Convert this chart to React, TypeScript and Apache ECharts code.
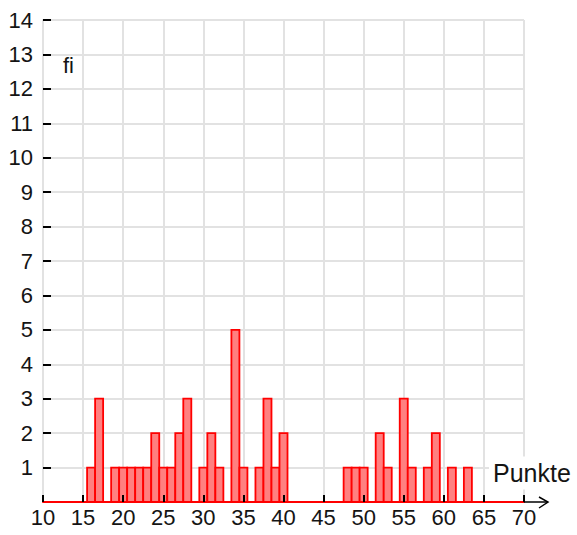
import React, { useEffect, useRef } from "react";
import * as echarts from "echarts";

// Histogram data: Punkte (x) and absolute frequency fi (y)
const punkte = [16, 17, 19, 20, 21, 22, 23, 24, 25, 26, 27, 28, 30, 31, 32, 34, 35, 37, 38, 39, 40, 48, 49, 50, 52, 53, 55, 56, 58, 59, 61, 63];
const fi = [1, 3, 1, 1, 1, 1, 1, 2, 1, 1, 2, 3, 1, 2, 1, 5, 1, 1, 3, 1, 2, 1, 1, 1, 2, 1, 3, 1, 1, 2, 1, 1];

const xMin = 10;
const xMax = 70;
const xStep = 5;
const yMin = 0;
const yMax = 14;
const yStep = 1;

const FONT = "'Liberation Sans', Arial, sans-serif";
const TXT = "#141414";
const GRID = "#e2e2e2";

export default function App() {
  const ref = useRef<HTMLDivElement>(null);

  useEffect(() => {
    document.body.style.margin = "0";
    if (!ref.current) return;
    const chart = echarts.init(ref.current, null, { renderer: "svg" });
    const data = punkte.map((p, i) => [p, fi[i]]);

    chart.setOption({
      animation: false,
      backgroundColor: "#ffffff",
      grid: { left: 43, right: 53, top: 20, bottom: 33, containLabel: false },
      xAxis: [
        {
          type: "value",
          min: xMin,
          max: xMax,
          interval: xStep,
          axisLine: { show: false },
          axisTick: { show: false },
          axisLabel: { color: TXT, fontSize: 22, fontFamily: FONT, margin: 4 },
          splitLine: { show: true, lineStyle: { color: GRID, width: 2 } },
          z: 0,
        },
        {
          type: "value",
          position: "bottom",
          min: xMin,
          max: xMax,
          interval: xStep,
          axisLine: { show: true, onZero: false, lineStyle: { color: "#ff0000", width: 2 } },
          axisTick: { show: true, inside: true, length: 7, lineStyle: { color: "#000000", width: 2 } },
          axisLabel: { show: false },
          splitLine: { show: false },
          z: 10,
        },
      ],
      yAxis: {
        type: "value",
        min: yMin,
        max: yMax,
        interval: yStep,
        axisLine: { show: true, lineStyle: { color: GRID, width: 2 } },
        axisTick: { show: true, inside: true, length: 8, lineStyle: { color: "#000000", width: 2 } },
        axisLabel: {
          color: TXT,
          fontSize: 22,
          fontFamily: FONT,
          margin: 10,
          formatter: (v: number) => (v === 0 ? "" : String(v)),
        },
        splitLine: { show: true, lineStyle: { color: GRID, width: 2 } },
      },
      series: [
        {
          type: "custom",
          xAxisIndex: 0,
          data,
          z: 5,
          renderItem: (params: any, api: any) => {
            const x = api.value(0);
            const y = api.value(1);
            const p0 = api.coord([x - 0.5, y]);
            const p1 = api.coord([x + 0.5, 0]);
            return {
              type: "rect",
              shape: { x: p0[0], y: p0[1], width: p1[0] - p0[0], height: p1[1] - p0[1] },
              style: { fill: "#ff8080", stroke: "#ff0000", lineWidth: 1.8 },
            };
          },
        },
      ],
    });

    const end = chart.convertToPixel({ gridIndex: 0 }, [xMax, 0]) as number[];
    const ex = end[0];
    const ey = end[1];
    chart.setOption({
      graphic: [
        {
          type: "line",
          shape: { x1: ex, y1: ey, x2: ex + 24, y2: ey },
          style: { stroke: "#000000", lineWidth: 1.5 },
          z: 20,
        },
        {
          type: "polyline",
          shape: { points: [[ex + 15, ey - 5], [ex + 24, ey], [ex + 15, ey + 6]] },
          style: { stroke: "#000000", lineWidth: 1.5, fill: "none" },
          z: 20,
        },
        {
          type: "text",
          x: 63,
          y: 65,
          style: { text: "fi", fontSize: 22, fontFamily: FONT, fill: TXT, verticalAlign: "middle", align: "left" },
          z: 20,
        },
        {
          type: "text",
          x: 489,
          y: 473,
          style: {
            text: "Punkte",
            fontSize: 25,
            fontFamily: FONT,
            fill: TXT,
            verticalAlign: "middle",
            align: "left",
            backgroundColor: "#ffffff",
            padding: [4, 4, 4, 4],
          },
          z: 20,
        },
      ],
    });

    return () => chart.dispose();
  }, []);

  return <div ref={ref} style={{ width: 577, height: 535 }} />;
}
